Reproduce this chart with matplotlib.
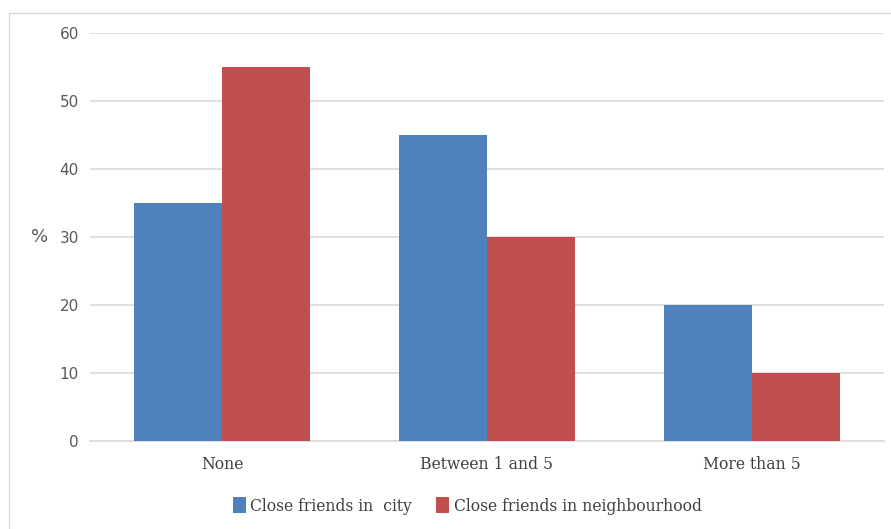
import numpy as np
import matplotlib
matplotlib.use("Agg")
from matplotlib import pyplot as plt
from matplotlib.patches import Rectangle

# friendship survey values, percent
categories = ["None", "Between 1 and 5", "More than 5"]
city = [35, 45, 20]
neighbourhood = [55, 30, 10]
series_names = ["Close friends in  city", "Close friends in neighbourhood"]
yticks = [0, 10, 20, 30, 40, 50, 60]

W, H = 891, 529
fig = plt.figure(figsize=(W / 100, H / 100), dpi=100)

# light frame around the chart area
fig.patches.append(Rectangle((9 / W, -0.05), 1.0, 1 - 13 / H + 0.05,
                             transform=fig.transFigure, fill=False,
                             edgecolor="#D9D9D9", linewidth=1.0))

ax = fig.add_axes([90 / W, 1 - 441 / H, (884 - 90) / W, (441 - 33) / H])

x = np.arange(len(categories))
bw = 0.333
ax.bar(x - bw / 2, city, bw, color="#4F81BD", label=series_names[0], zorder=3)
ax.bar(x + bw / 2, neighbourhood, bw, color="#C0504D", label=series_names[1], zorder=3)

ax.set_xlim(-0.5, len(categories) - 0.5)
ax.set_ylim(0, 60)
ax.set_yticks(yticks)
ax.yaxis.grid(True, color="#D9D9D9", linewidth=1.2, zorder=0)
for s in ["top", "right", "left"]:
    ax.spines[s].set_visible(False)
ax.spines["bottom"].set_color("#D9D9D9")
ax.spines["bottom"].set_linewidth(1.2)
ax.tick_params(axis="both", length=0)
ax.tick_params(axis="y", labelcolor="#595959", labelsize=11, pad=8)

serif = {"family": "DejaVu Serif", "stretch": "condensed", "size": 12.5}
ax.set_xticks(x)
ax.set_xticklabels(categories, fontdict=serif, color="#404040")
ax.tick_params(axis="x", pad=11)

ax.set_ylabel("%", rotation=0, fontsize=13, color="#595959", va="center")
ax.yaxis.set_label_coords(-0.063, 0.5)

leg = ax.legend(loc="upper center", bbox_to_anchor=(0.475, -0.1), ncol=2,
                frameon=False, handlelength=0.75, handleheight=1.0,
                handletextpad=0.25, columnspacing=1.4, prop=serif)
for t in leg.get_texts():
    t.set_color("#404040")

fig.savefig("out.png", dpi=100)
